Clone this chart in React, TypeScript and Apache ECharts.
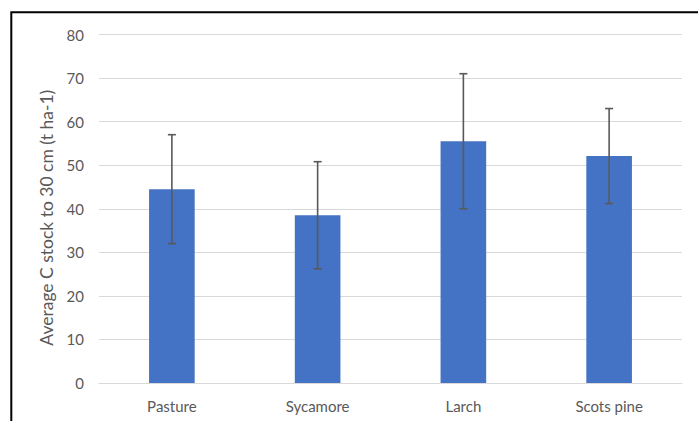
import React, { useEffect, useRef } from "react";
import * as echarts from "echarts";

const categories = ["Pasture", "Sycamore", "Larch", "Scots pine"];
const means = [44.5, 38.5, 55.5, 52.1];
const errors = [12.5, 12.3, 15.5, 10.9];
const yTicks = { min: 0, max: 80, interval: 10 };
const yAxisTitle = "Average C stock to 30 cm (t ha-1)";

const FONT = "Lato";

export default function App() {
  const ref = useRef<HTMLDivElement>(null);
  useEffect(() => {
    if (!ref.current) return;
    const chart = echarts.init(ref.current, null, { renderer: "svg" });
    const errData = means.map((m, i) => [i, m - errors[i], m + errors[i]]);
    chart.setOption({
      animation: false,
      backgroundColor: "#ffffff",
      textStyle: { fontFamily: FONT },
      grid: { left: 99, right: 16, top: 34.5, bottom: 38 },
      graphic: [
        {
          type: "rect",
          shape: { x: 11.3, y: 12.3, width: 800, height: 600 },
          style: { fill: "none", stroke: "#000000", lineWidth: 2 },
          silent: true,
        },
      ],
      xAxis: {
        type: "category",
        data: categories,
        axisLine: { show: true, lineStyle: { color: "#d9d9d9", width: 1 } },
        axisTick: { show: false },
        axisLabel: { color: "#595959", fontSize: 15, margin: 15, fontFamily: FONT },
      },
      yAxis: {
        type: "value",
        min: yTicks.min,
        max: yTicks.max,
        interval: yTicks.interval,
        name: yAxisTitle,
        nameLocation: "middle",
        nameGap: 38,
        nameRotate: 90,
        nameTextStyle: {
          color: "#595959",
          fontSize: 17.5,
          fontFamily: FONT,
          padding: [0, 18, 0, 0],
        },
        axisLine: { show: false },
        axisTick: { show: false },
        axisLabel: { color: "#595959", fontSize: 15, margin: 15, fontFamily: FONT },
        splitLine: { lineStyle: { color: "#d9d9d9", width: 1 } },
      },
      series: [
        {
          type: "bar",
          data: means,
          barWidth: "31.3%",
          itemStyle: { color: "#4472C4" },
        },
        {
          type: "custom",
          data: errData,
          z: 10,
          renderItem: (params: any, api: any) => {
            const x = api.value(0);
            const lo = api.coord([x, api.value(1)]);
            const hi = api.coord([x, api.value(2)]);
            const cap = 4;
            const style = { stroke: "#595959", lineWidth: 1.6 };
            return {
              type: "group",
              children: [
                { type: "line", shape: { x1: hi[0], y1: hi[1], x2: lo[0], y2: lo[1] }, style },
                { type: "line", shape: { x1: hi[0] - cap, y1: hi[1], x2: hi[0] + cap, y2: hi[1] }, style },
                { type: "line", shape: { x1: lo[0] - cap, y1: lo[1], x2: lo[0] + cap, y2: lo[1] }, style },
              ],
            };
          },
        },
      ],
    });
    return () => chart.dispose();
  }, []);
  return (
    <div
      ref={ref}
      style={{ position: "fixed", left: 0, top: 0, width: 698, height: 421 }}
    />
  );
}
